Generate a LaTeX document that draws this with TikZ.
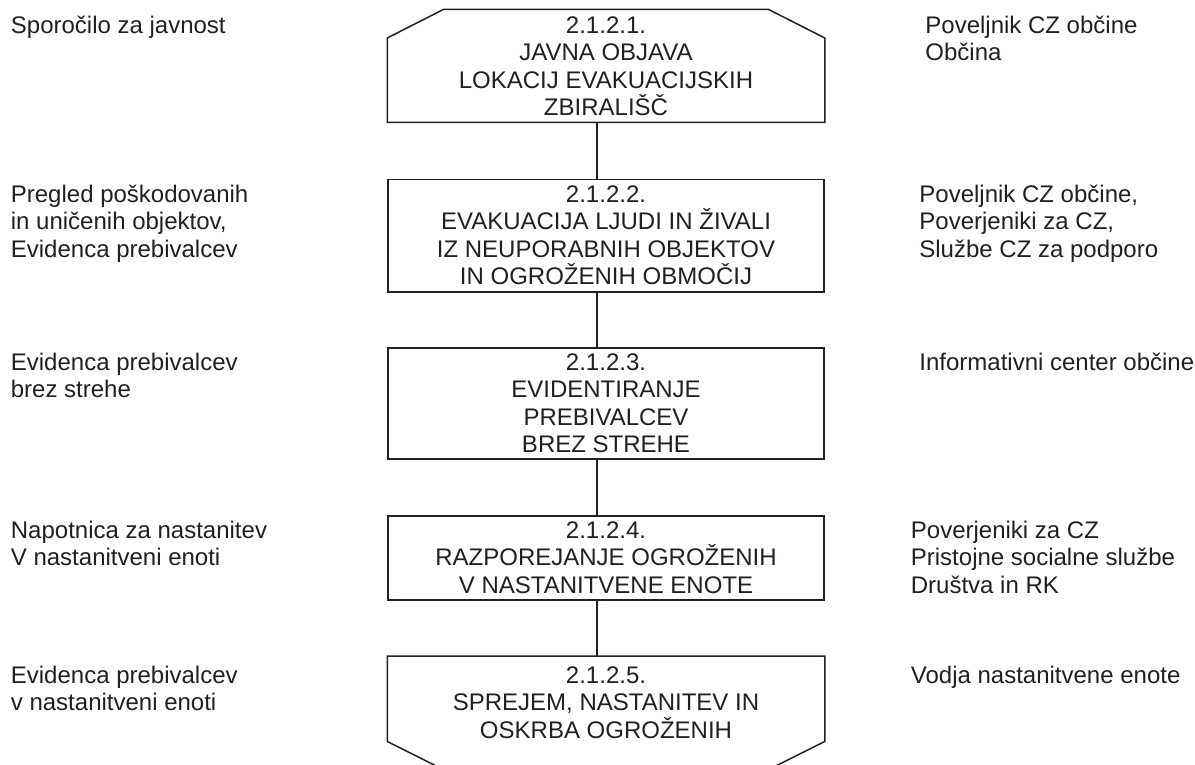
\documentclass[tikz,border=0pt]{standalone}
\usepackage{fontspec}
\setmainfont{Liberation Sans}
\definecolor{ink}{RGB}{35,31,32}
\newcommand\fstrut{\rule{0pt}{11pt}}
\begin{document}
\begin{tikzpicture}[x=0.5pt,y=-0.5pt,
  boxshape/.style={draw=ink, line width=0.75pt, minimum width=218pt, inner sep=0pt, anchor=north},
  boxtext/.style={font=\fontsize{12}{13.75}\selectfont, align=center, anchor=north, inner sep=0pt, text=ink},
  side/.style={font=\fontsize{12}{13.75}\selectfont, align=left, anchor=north west, inner sep=0pt, text=ink},
  link/.style={draw=ink, line width=0.75pt}]
\useasboundingbox (0,0) rectangle (1195,765);

% box shapes
\node[boxshape, draw=none, minimum height=55.75pt] (b1) at (606,9.5) {};
\node[boxshape, minimum height=56pt] (b2) at (606,179) {};
\node[boxshape, minimum height=55.5pt] (b3) at (606,347) {};
\node[boxshape, minimum height=42pt] (b4) at (606,515) {};
\node[boxshape, draw=none, minimum height=56pt] (b5) at (606,656) {};

\draw[link] ([xshift=28pt]b1.north west) -- ([xshift=-28pt]b1.north east)
  -- ([yshift=-14.25pt]b1.north east) -- (b1.south east) -- (b1.south west)
  -- ([yshift=-14.25pt]b1.north west) -- cycle;
\draw[link] (b5.north west) -- (b5.north east) -- ([yshift=14pt]b5.south east)
  -- ([xshift=-28pt]b5.south east) -- ([xshift=28pt]b5.south west)
  -- ([yshift=14pt]b5.south west) -- cycle;

% box texts
\node[boxtext] (t1) at (606,11) {\fstrut 2.1.2.1.\\JAVNA OBJAVA\\LOKACIJ EVAKUACIJSKIH\\ZBIRALIŠČ};
\node[boxtext] (t2) at (606,180) {\fstrut 2.1.2.2.\\EVAKUACIJA LJUDI IN ŽIVALI\\IZ NEUPORABNIH OBJEKTOV\\IN OGROŽENIH OBMOČIJ};
\node[boxtext] (t3) at (606,348) {\fstrut 2.1.2.3.\\EVIDENTIRANJE\\PREBIVALCEV\\BREZ STREHE};
\node[boxtext] (t4) at (606,516) {\fstrut 2.1.2.4.\\RAZPOREJANJE OGROŽENIH\\V NASTANITVENE ENOTE};
\node[boxtext] (t5) at (606,661) {\fstrut 2.1.2.5.\\SPREJEM, NASTANITEV IN\\OSKRBA OGROŽENIH};

% connectors
\coordinate (cx) at (597,0);
\draw[link] (b1.south -| cx) -- (b2.north -| cx);
\draw[link] (b2.south -| cx) -- (b3.north -| cx);
\draw[link] (b3.south -| cx) -- (b4.north -| cx);
\draw[link] (b4.south -| cx) -- (b5.north -| cx);

% left texts
\node[side] (l1) at (10.5,11) {\fstrut Sporočilo za javnost};
\node[side] (l2) at (10.5,180) {\fstrut Pregled poškodovanih\\in uničenih objektov,\\Evidenca prebivalcev};
\node[side] (l3) at (10.5,348) {\fstrut Evidenca prebivalcev\\brez strehe};
\node[side] (l4) at (10.5,516) {\fstrut Napotnica za nastanitev\\V nastanitveni enoti};
\node[side] (l5) at (10.5,661) {\fstrut Evidenca prebivalcev\\v nastanitveni enoti};

% right texts
\node[side] (r1) at (925,11) {\fstrut Poveljnik CZ občine\\Občina};
\node[side] (r2) at (919,180) {\fstrut Poveljnik CZ občine,\\Poverjeniki za CZ,\\Službe CZ za podporo};
\node[side] (r3) at (919,348) {\fstrut Informativni center občine};
\node[side] (r4) at (910.5,516) {\fstrut Poverjeniki za CZ\\Pristojne socialne službe\\Društva in RK};
\node[side] (r5) at (910.5,661) {\fstrut Vodja nastanitvene enote};
\end{tikzpicture}
\end{document}
